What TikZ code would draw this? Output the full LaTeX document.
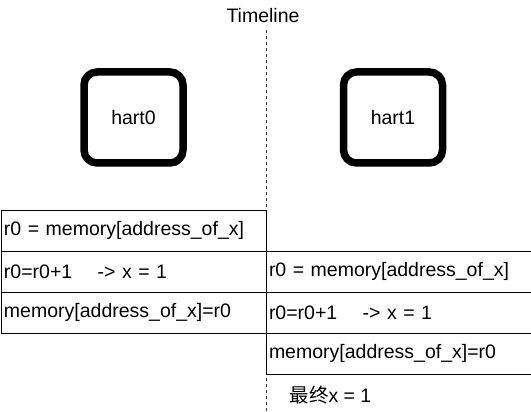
\documentclass[tikz,border=0pt]{standalone}
\usepackage{fontspec}
\setmainfont{Liberation Sans}
\newfontfamily\cjk{Noto Sans CJK SC}
\usetikzlibrary{positioning}

\tikzset{
  hart/.style={draw, line width=7.5pt, rounded corners=13pt,
    minimum width=99pt, minimum height=91pt, outer sep=0pt},
  cell/.style={draw, line width=1pt, minimum height=41pt, outer sep=0pt,
    text width=259pt, inner xsep=3pt, align=left, anchor=north west},
}

\begin{document}
\begin{tikzpicture}[x=1pt, y=-1pt, font=\fontsize{19.5}{23}\selectfont]
  \useasboundingbox (0,0) rectangle (531,412);

  % timeline
  \node (tl) at (263,16) {Timeline};
  \coordinate (top) at (266,30);
  \coordinate (bottom) at (266,412);
  \draw[dashed, dash pattern=on 3pt off 3pt, black!80] (top) -- (bottom);

  % the two harts
  \node[hart] (hart0) at (133.5,117.5) {hart0};
  \node[hart] (hart1) at (393,117.5) {hart1};

  % hart0 steps
  \node[cell] (a1) at (1,210) {r0 = memory[address\_of\_x]};
  \node[cell, below=0pt of a1] (a2) {r0=r0+1\hspace{1.3em}-> x = 1};
  \node[cell, below=0pt of a2] (a3) {memory[address\_of\_x]=r0};

  % hart1 steps
  \node[cell] (b1) at (266,251) {r0 = memory[address\_of\_x]};
  \node[cell, below=0pt of b1] (b2) {r0=r0+1\hspace{1.3em}-> x = 1};
  \node[cell, below=0pt of b2] (b3) {memory[address\_of\_x]=r0};

  \node[anchor=west] (result) at (286,395) {{\cjk 最终}x = 1};
\end{tikzpicture}
\end{document}
